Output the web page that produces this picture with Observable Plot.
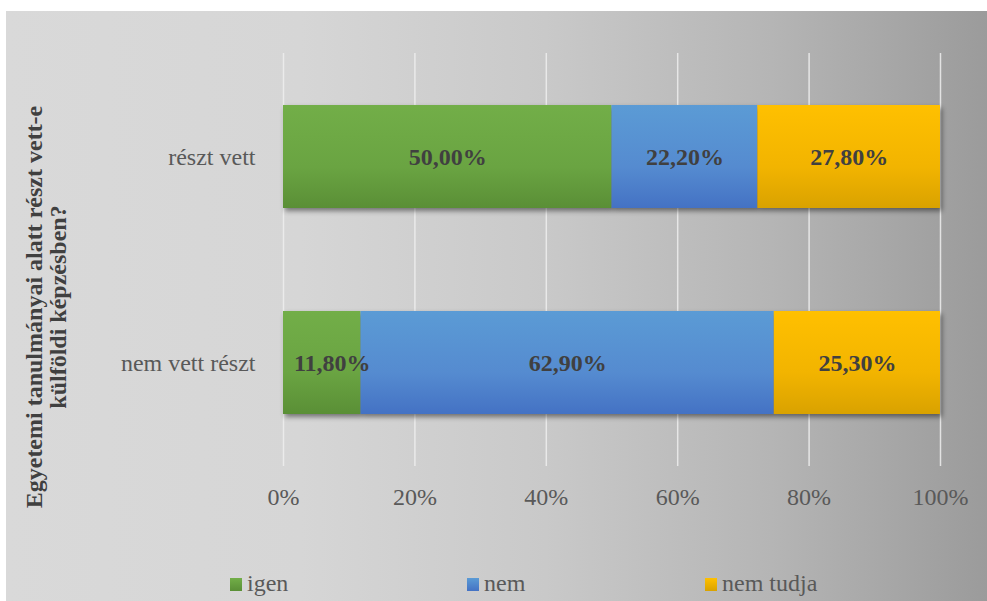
<!DOCTYPE html>
<html>
<head>
<meta charset="utf-8">
<script src="https://cdn.jsdelivr.net/npm/d3@7"></script>
<script src="https://cdn.jsdelivr.net/npm/@observablehq/plot@0.6"></script>
<style>
  body { margin: 0; background: #ffffff; font-family: "Liberation Serif", serif; }
  #chart {
    position: absolute; left: 6px; top: 11px; width: 981px; height: 590px; overflow: hidden;
    background: linear-gradient(to right, #d9d9d9 0%, #d6d6d6 30%, #c9c9c9 55%, #b5b5b5 78%, #9b9b9b 100%);
  }
  #chart svg { position: absolute; left: 0; top: 0; background: transparent; }
  .leg { position: absolute; top: 558px; height: 28px; display: flex; align-items: center;
         font-family: "Liberation Serif", serif; font-size: 24px; color: #595959; white-space: nowrap; }
  .sw { display: inline-block; width: 12px; height: 13px; margin-right: 5px; margin-top: 2px; }
</style>
</head>
<body>
<svg width="0" height="0" style="position:absolute">
  <defs>
    <linearGradient id="gIgen" x1="0" y1="0" x2="0" y2="1">
      <stop offset="0" stop-color="#72ae48"/><stop offset="0.6" stop-color="#6aa442"/><stop offset="1" stop-color="#5a8f36"/>
    </linearGradient>
    <linearGradient id="gNem" x1="0" y1="0" x2="0" y2="1">
      <stop offset="0" stop-color="#5b9bd5"/><stop offset="0.6" stop-color="#558bd0"/><stop offset="1" stop-color="#4472c4"/>
    </linearGradient>
    <linearGradient id="gNt" x1="0" y1="0" x2="0" y2="1">
      <stop offset="0" stop-color="#ffc000"/><stop offset="0.6" stop-color="#f2b400"/><stop offset="1" stop-color="#d9a200"/>
    </linearGradient>
  </defs>
</svg>
<div id="chart"></div>
<script>
const categories = ["részt vett", "nem vett részt"];
const series = ["igen", "nem", "nem tudja"];
const igen = [50.0, 11.8];
const nem = [22.2, 62.9];
const nemTudja = [27.8, 25.3];
const xTicks = [0, 20, 40, 60, 80, 100];
const axisTitle = "Egyetemi tanulmányai alatt részt vett-e\nkülföldi képzésben?";

const valuesBySeries = [igen, nem, nemTudja];
const rows = [];
categories.forEach((cat, i) => {
  series.forEach((s, j) => rows.push({cat, series: s, value: valuesBySeries[j][i]}));
});

const fmt = v => v.toFixed(2).replace(".", ",") + "%";
const narrow = 15; // segments narrower than their label get the label nudged right

const labelOpts = { fill: "#404040", fontWeight: "bold", fontSize: 24 };

const plot = Plot.plot({
  width: 981,
  height: 540,
  marginLeft: 277,
  marginRight: 47,
  marginTop: 42,
  marginBottom: 85,
  style: { fontFamily: "Liberation Serif", fontSize: "24px", color: "#595959", background: "transparent" },
  x: { domain: [0, 100], ticks: xTicks, tickFormat: d => d + "%", tickSize: 0, tickPadding: 21, label: null },
  y: { domain: categories, paddingInner: 0.5, paddingOuter: 0.25, tickSize: 0, tickPadding: 28, label: null },
  color: { type: "ordinal", domain: series, range: ["url(#gIgen)", "url(#gNem)", "url(#gNt)"] },
  marks: [
    Plot.gridX(xTicks, { stroke: "#efefef", strokeOpacity: 0.85, strokeWidth: 1.5 }),
    Plot.barX(rows, Plot.stackX({ x: "value", y: "cat", fill: "series", order: series })),
    Plot.text(rows, Plot.stackX({ x: "value", y: "cat", z: "series", order: series,
      text: d => d.value >= narrow ? fmt(d.value) : "", ...labelOpts })),
    Plot.text(rows, Plot.stackX({ x: "value", y: "cat", z: "series", order: series,
      text: d => d.value < narrow ? fmt(d.value) : "", dx: 10, ...labelOpts })),
    Plot.text([axisTitle], { text: d => d, frameAnchor: "left", rotate: -90, textAnchor: "middle",
      dx: -237, dy: 47, lineHeight: 0.97, fontWeight: "bold", fontSize: 24, fill: "#404040" })
  ]
});

d3.select(plot).selectAll('g[aria-label="bar"]').style("filter", "drop-shadow(2px 3px 2.5px rgba(0,0,0,0.45))");

const chart = document.getElementById("chart");
chart.appendChild(plot);

const legendItems = [
  { name: series[0], left: 224, bg: "linear-gradient(#72ae48, #5a8f36)" },
  { name: series[1], left: 461, bg: "linear-gradient(#5b9bd5, #4472c4)" },
  { name: series[2], left: 699, bg: "linear-gradient(#ffc000, #d9a200)" }
];
legendItems.forEach(it => {
  const d = document.createElement("div");
  d.className = "leg";
  d.style.left = it.left + "px";
  const sw = document.createElement("span");
  sw.className = "sw";
  sw.style.background = it.bg;
  d.appendChild(sw);
  d.appendChild(document.createTextNode(it.name));
  chart.appendChild(d);
});
</script>
</body>
</html>
